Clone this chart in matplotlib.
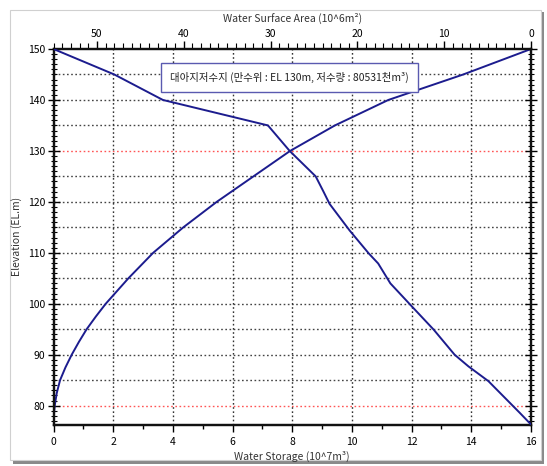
import numpy as np
import matplotlib
matplotlib.use('Agg')
import matplotlib.pyplot as plt
from matplotlib.patches import Rectangle
from matplotlib.ticker import MultipleLocator

plt.rcParams['font.family'] = ['Liberation Sans Narrow', 'Noto Sans CJK KR', 'DejaVu Sans']

# elevation - storage curve (bottom axis, 10^7 m3)
elev_storage = [76.3, 78, 80, 82.5, 85, 87.5, 90, 92.5, 95, 97.5, 100, 105, 110, 115, 120, 125, 130, 135, 140, 145, 150]
storage = [0, 0.01, 0.04, 0.11, 0.22, 0.4, 0.61, 0.85, 1.11, 1.42, 1.75, 2.51, 3.34, 4.35, 5.47, 6.70, 7.93, 9.43, 11.22, 13.73, 16.0]

# elevation - surface area curve (top axis, 10^6 m2)
elev_area = [76.3, 78.6, 84.8, 87.7, 90, 94.9, 99.8, 104, 107.9, 109.9, 114.4, 119.6, 122, 125, 130, 135, 140, 145, 150]
area = [0, 1.3, 4.9, 7.2, 8.8, 11.2, 13.9, 16.2, 17.6, 18.7, 20.9, 23.2, 23.9, 24.8, 27.8, 30.3, 42.4, 48.0, 55.0]

storage_ticks = [0, 2, 4, 6, 8, 10, 12, 14, 16]
area_ticks = [0, 10, 20, 30, 40, 50]
elev_ticks = [80, 90, 100, 110, 120, 130, 140, 150]
grid_elev = [85, 90, 95, 100, 105, 110, 115, 120, 125, 135, 140, 145]
red_elev = [80, 130]

title_box = '대아지저수지 (만수위 : EL 130m, 저수량 : 80531천m³)'

W, H = 547, 466
fig = plt.figure(figsize=(W / 100, H / 100), dpi=100)

# panel with shadow
fig.patches.append(Rectangle((13 / W, 1 - 464 / H), 531 / W, 452 / H, transform=fig.transFigure,
                             facecolor='#8a8a8a', edgecolor='none', zorder=-3))
fig.patches.append(Rectangle((10 / W, 1 - 460 / H), 531 / W, 450 / H, transform=fig.transFigure,
                             facecolor='white', edgecolor='#d0d0d0', linewidth=0.8, zorder=-2))

left, right, top, bottom = 53.5, 531, 49, 424.5
ax = fig.add_axes([left / W, 1 - bottom / H, (right - left) / W, (bottom - top) / H])
ax.set_facecolor('white')

ax.set_xlim(0, 16)
ax.set_ylim(76.3, 150)

for e in grid_elev:
    ax.axhline(e, color='#444444', linestyle=(0, (1.2, 1.8)), linewidth=1.0, zorder=1)
for e in red_elev:
    ax.axhline(e, color='#ff5555', linestyle=(0, (1.2, 1.8)), linewidth=1.0, zorder=1)
for s in storage_ticks[1:-1]:
    ax.axvline(s, color='#333333', linestyle=(0, (1.2, 1.8)), linewidth=1.0, zorder=1)

ax.plot(storage, elev_storage, color='#1c1c8e', linewidth=1.4, zorder=3)

ax.set_xticks(storage_ticks)
ax.xaxis.set_minor_locator(MultipleLocator(1))
ax.set_yticks(elev_ticks)
ax.yaxis.set_minor_locator(MultipleLocator(1))
ax.tick_params(axis='x', which='major', direction='out', length=5, width=1, labelsize=7.5, pad=4)
ax.tick_params(axis='x', which='minor', direction='out', length=3, width=1)
ax.tick_params(axis='y', which='major', direction='inout', length=8, width=1, labelsize=7.5, pad=2,
               right=True)
ax.tick_params(axis='y', which='minor', direction='inout', length=4, width=0.8, right=True)

ax.set_xlabel('Water Storage (10^7m³)', fontsize=7.5, color='#333333', labelpad=3)
ax.set_ylabel('Elevation (EL.m)', fontsize=7.5, color='#333333', labelpad=4)

ax2 = ax.twiny()
ax2.set_xlim(55, 0)
ax2.plot(area, elev_area, color='#1c1c8e', linewidth=1.4, zorder=3)
ax2.set_xticks(area_ticks)
ax2.xaxis.set_minor_locator(MultipleLocator(1))
ax2.tick_params(axis='x', which='major', direction='out', length=6, width=1, labelsize=7.5, pad=1)
ax2.tick_params(axis='x', which='minor', direction='out', length=4, width=0.8)
ax2.set_xlabel('Water Surface Area (10^6m²)', fontsize=7.5, color='#333333', labelpad=5)

for a in (ax, ax2):
    for sp in a.spines.values():
        sp.set_linewidth(1.6)
        sp.set_color('#111111')

ax2.text(0.494, 0.923, title_box, transform=ax.transAxes, ha='center', va='center',
         fontsize=7.5, family=['Noto Sans CJK KR', 'DejaVu Sans'], color='#222222', zorder=5,
         bbox=dict(boxstyle='square,pad=0.85', facecolor='white', edgecolor='#5a5ab0', linewidth=1))

fig.savefig('out.png', dpi=100)
